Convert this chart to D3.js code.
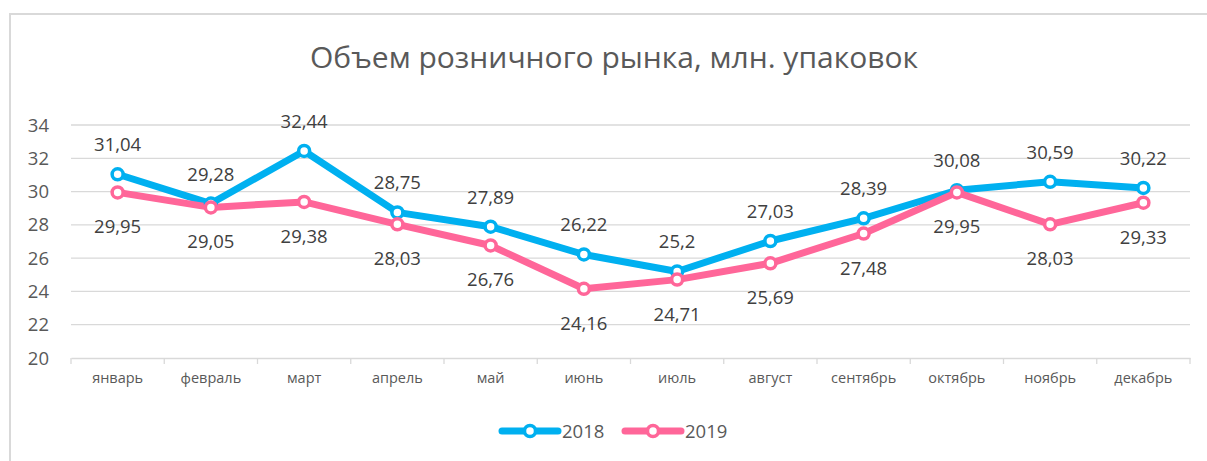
<!DOCTYPE html>
<html lang="ru">
<head>
<meta charset="UTF-8" />
<script src="https://d3js.org/d3.v7.min.js"></script>
<style>
  body { margin: 0; background: #fff; }
  svg text { font-family: "Open Sans", "Noto Sans", sans-serif; }
</style>
</head>
<body>
<script>
const width = 1207;
const height = 461;

const months = ["январь", "февраль", "март", "апрель", "май", "июнь", "июль", "август", "сентябрь", "октябрь", "ноябрь", "декабрь"];
const values2018 = [31.04, 29.28, 32.44, 28.75, 27.89, 26.22, 25.2, 27.03, 28.39, 30.08, 30.59, 30.22];
const values2019 = [29.95, 29.05, 29.38, 28.03, 26.76, 24.16, 24.71, 25.69, 27.48, 29.95, 28.03, 29.33];
const yTicks = [20, 22, 24, 26, 28, 30, 32, 34];

const series = [
  { name: "2018", values: values2018, color: "#00b0f0", dy: -30 },
  { name: "2019", values: values2019, color: "#ff6699", dy: 34 }
];

const svg = d3.select("body").append("svg")
  .attr("width", width)
  .attr("height", height);

// chart frame (only top/left visible)
svg.append("path")
  .attr("d", "M10,470 L10,14 L1220,14")
  .attr("fill", "none")
  .attr("stroke", "#d9d9d9")
  .attr("stroke-width", 2);

svg.append("text")
  .attr("x", 614)
  .attr("y", 68)
  .attr("text-anchor", "middle")
  .attr("font-size", 30)
  .attr("fill", "#595959")
  .text("Объем розничного рынка, млн. упаковок");

const x = d3.scaleBand().domain(months).range([71, 1190]);
const y = d3.scaleLinear().domain([20, 34]).range([358, 125]);

// gridlines
svg.append("g")
  .selectAll("line")
  .data(yTicks.slice(1))
  .join("line")
  .attr("x1", 71).attr("x2", 1190)
  .attr("y1", d => y(d)).attr("y2", d => y(d))
  .attr("stroke", "#d9d9d9")
  .attr("stroke-width", 1.3);

// y labels
svg.append("g")
  .selectAll("text")
  .data(yTicks)
  .join("text")
  .attr("x", 49)
  .attr("y", d => y(d) + 6.5)
  .attr("text-anchor", "end")
  .attr("font-size", 18.5)
  .attr("fill", "#595959")
  .text(d => d);

// x axis
const xAxis = svg.append("g")
  .attr("transform", "translate(0," + y(20) + ")")
  .call(d3.axisBottom(x).tickSize(0).tickPadding(15));
xAxis.select(".domain").attr("stroke", "#d9d9d9").attr("stroke-width", 1.3);
xAxis.selectAll("text")
  .attr("font-size", 14.5)
  .attr("fill", "#595959")
  .style("font-family", '"Open Sans", "Noto Sans", sans-serif');
xAxis.selectAll(".tick line").remove();
svg.append("g")
  .selectAll("line")
  .data(months.map(m => x(m)).concat([x.range()[1]]))
  .join("line")
  .attr("x1", d => d).attr("x2", d => d)
  .attr("y1", y(20)).attr("y2", y(20) + 6)
  .attr("stroke", "#d9d9d9")
  .attr("stroke-width", 1.3);

const cx = m => x(m) + x.bandwidth() / 2;
const line = d3.line().x((d, i) => cx(months[i])).y(d => y(d));

const fmt = v => String(v).replace(".", ",");

series.forEach(s => {
  svg.append("path")
    .datum(s.values)
    .attr("d", line)
    .attr("fill", "none")
    .attr("stroke", s.color)
    .attr("stroke-width", 7)
    .attr("stroke-linejoin", "round")
    .attr("stroke-linecap", "round");
});

series.forEach(s => {
  svg.append("g")
    .selectAll("circle")
    .data(s.values)
    .join("circle")
    .attr("cx", (d, i) => cx(months[i]))
    .attr("cy", d => y(d))
    .attr("r", 5.5)
    .attr("fill", "#fff")
    .attr("stroke", s.color)
    .attr("stroke-width", 3.5);
});

series.forEach(s => {
  svg.append("g")
    .selectAll("text")
    .data(s.values)
    .join("text")
    .attr("x", (d, i) => cx(months[i]))
    .attr("y", d => y(d) + s.dy + 7)
    .attr("text-anchor", "middle")
    .attr("font-size", 18.5)
    .attr("fill", "#404040")
    .text(d => fmt(d));
});

// legend
const legend = svg.append("g");
series.forEach((s, i) => {
  const lx = 502 + i * 123;
  const ly = 431;
  legend.append("line")
    .attr("x1", lx).attr("x2", lx + 56)
    .attr("y1", ly).attr("y2", ly)
    .attr("stroke", s.color)
    .attr("stroke-width", 7)
    .attr("stroke-linecap", "round");
  legend.append("circle")
    .attr("cx", lx + 28).attr("cy", ly)
    .attr("r", 5.5)
    .attr("fill", "#fff")
    .attr("stroke", s.color)
    .attr("stroke-width", 3.5);
  legend.append("text")
    .attr("x", lx + 60)
    .attr("y", ly + 7)
    .attr("font-size", 18.5)
    .attr("fill", "#595959")
    .text(s.name);
});
</script>
</body>
</html>
